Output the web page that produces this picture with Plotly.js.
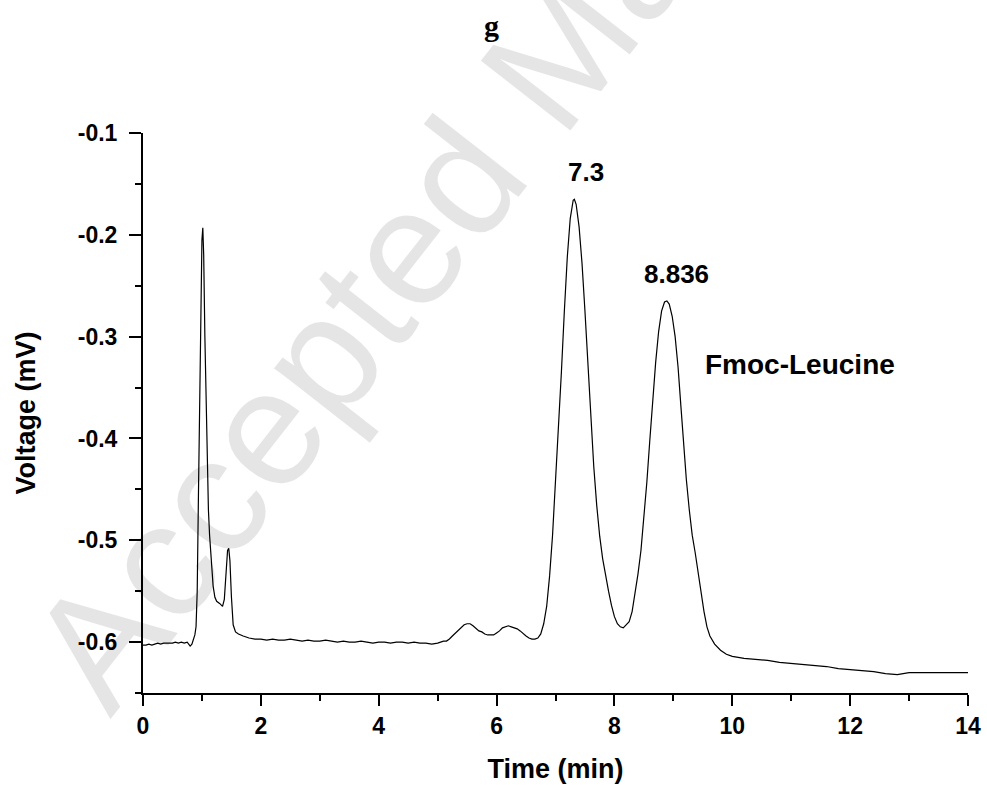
<!DOCTYPE html>
<html>
<head>
<meta charset="utf-8">
<script src="https://cdn.plot.ly/plotly-3.0.1.min.js"></script>
<style>html,body{margin:0;padding:0;background:#fff;}#chart{width:987px;height:785px;}</style>
</head>
<body>
<div id="chart"></div>
<script>
// Data
const timeMin = [
  0.00,0.05,0.10,0.15,0.20,0.25,0.30,0.35,0.40,0.45,0.50,0.55,0.60,0.65,0.70,0.75,0.80,0.83,0.86,0.88,
  0.90,0.92,0.94,0.96,0.98,1.00,1.015,1.03,1.05,1.07,1.09,1.11,1.13,1.16,1.19,1.22,1.25,1.30,1.35,1.38,
  1.41,1.435,1.455,1.475,1.50,1.53,1.57,1.62,1.70,1.80,
  1.9,2.0,2.1,2.2,2.3,2.4,2.5,2.6,2.7,2.8,2.9,3.0,3.1,3.2,3.3,3.4,3.5,3.6,3.7,3.8,3.9,4.0,4.1,4.2,4.3,4.4,4.5,4.6,4.7,4.8,4.9,5.0,5.1,
  5.15,5.2,5.25,5.3,5.35,5.4,5.45,5.5,5.55,5.6,5.65,5.7,5.75,5.8,5.85,5.9,5.95,6.0,6.05,6.1,6.15,6.2,6.25,6.3,6.35,6.4,6.45,6.5,6.55,6.6,6.65,6.7,6.75,6.8,6.85,
  6.90,6.95,7.00,7.05,7.10,7.15,7.20,7.25,7.30,7.32,7.35,7.40,7.45,7.50,7.55,7.60,7.65,7.70,7.75,7.80,7.85,7.90,7.95,8.00,8.05,8.10,8.15,8.20,
  8.25,8.30,8.35,8.40,8.45,8.50,8.55,8.60,8.65,8.70,8.75,8.80,8.85,8.89,8.93,8.98,9.03,9.08,9.13,9.17,9.22,9.27,9.32,9.37,9.42,9.47,9.52,9.57,9.62,
  9.70,9.80,9.90,10.0,10.2,10.4,10.6,10.8,11.0,11.2,11.4,11.6,11.8,12.0,12.2,12.4,12.6,12.8,12.9,13.0,13.2,13.4,13.6,13.8,14.0
];
const voltage = [
  -0.603,-0.603,-0.602,-0.603,-0.602,-0.601,-0.602,-0.601,-0.601,-0.601,-0.601,-0.600,-0.601,-0.600,-0.601,-0.600,-0.604,-0.602,-0.597,-0.593,
  -0.585,-0.550,-0.460,-0.360,-0.260,-0.205,-0.193,-0.220,-0.300,-0.370,-0.430,-0.470,-0.495,-0.525,-0.545,-0.556,-0.560,-0.562,-0.565,-0.558,
  -0.530,-0.510,-0.508,-0.520,-0.555,-0.583,-0.590,-0.592,-0.594,-0.596,
  -0.597,-0.597,-0.598,-0.597,-0.598,-0.598,-0.597,-0.598,-0.599,-0.598,-0.599,-0.599,-0.598,-0.599,-0.600,-0.599,-0.600,-0.600,-0.599,-0.600,-0.601,-0.600,-0.600,-0.601,-0.600,-0.600,-0.601,-0.600,-0.601,-0.601,-0.602,-0.601,-0.599,
  -0.599,-0.597,-0.594,-0.591,-0.588,-0.585,-0.583,-0.582,-0.582,-0.584,-0.587,-0.589,-0.590,-0.592,-0.593,-0.593,-0.593,-0.591,-0.589,-0.586,-0.585,-0.584,-0.585,-0.586,-0.587,-0.589,-0.592,-0.594,-0.596,-0.597,-0.597,-0.596,-0.592,-0.582,-0.565,
  -0.535,-0.495,-0.445,-0.395,-0.335,-0.275,-0.222,-0.184,-0.166,-0.165,-0.170,-0.192,-0.228,-0.275,-0.327,-0.380,-0.428,-0.466,-0.496,-0.518,-0.535,-0.550,-0.564,-0.575,-0.582,-0.585,-0.586,-0.583,
  -0.580,-0.570,-0.552,-0.533,-0.510,-0.480,-0.443,-0.402,-0.362,-0.325,-0.295,-0.275,-0.266,-0.265,-0.268,-0.280,-0.300,-0.330,-0.370,-0.402,-0.440,-0.470,-0.495,-0.512,-0.532,-0.550,-0.570,-0.585,-0.594,
  -0.602,-0.608,-0.612,-0.614,-0.616,-0.617,-0.618,-0.620,-0.621,-0.622,-0.623,-0.624,-0.626,-0.627,-0.628,-0.629,-0.631,-0.632,-0.631,-0.630,-0.630,-0.630,-0.630,-0.630,-0.630
];
const xTickVals = [0,2,4,6,8,10,12,14];
const xTickText = ["0","2","4","6","8","10","12","14"];
const yTickVals = [-0.6,-0.5,-0.4,-0.3,-0.2,-0.1];
const yTickText = ["-0.6","-0.5","-0.4","-0.3","-0.2","-0.1"];
const yMinorVals = [-0.65,-0.55,-0.45,-0.35,-0.25,-0.15];
const xMinorVals = [1,3,5,7,9,11,13];
const peakLabels = ["7.3","8.836","Fmoc-Leucine"];
const peakLabelX = [7.51,9.06,11.15];
const peakLabelY = [-0.138,-0.238,-0.327];

const font = "Liberation Sans, Arial, Helvetica, sans-serif";

const trace = {
  x: timeMin, y: voltage, type: "scatter", mode: "lines",
  line: {color: "#000", width: 1.2}, showlegend: false, hoverinfo: "skip"
};

const labelSizes = [26, 26, 28];
const annotations = peakLabels.map((t,i) => ({
  x: peakLabelX[i], y: peakLabelY[i], xref: "x", yref: "y", text: "<b>" + t + "</b>",
  showarrow: false, xanchor: "center", yanchor: "middle",
  font: {family: font, size: labelSizes[i], color: "#000"}
}));
annotations.push({
  x: 0.481, y: 1.1, xref: "paper", yref: "paper", text: "Accepted Manuscript",
  showarrow: false, textangle: -52, xanchor: "center", yanchor: "middle",
  font: {family: font, size: 165, color: "rgba(0,0,0,0.1)"}
});

const layout = {
  width: 987, height: 785,
  paper_bgcolor: "#fff", plot_bgcolor: "#fff",
  margin: {l: 143, r: 19, t: 133, b: 92},
  title: {
    text: "<b>g</b>", x: 0.498, xref: "container", xanchor: "center",
    y: 0.967, yref: "container", yanchor: "middle",
    font: {family: "Liberation Serif, Times New Roman, serif", size: 30, color: "#000"}
  },
  xaxis: {
    range: [0, 14], tickmode: "array", tickvals: xTickVals, ticktext: xTickText,
    ticks: "outside", ticklen: 11, tickwidth: 2, tickcolor: "#000",
    showline: true, linewidth: 2, linecolor: "#000", mirror: false,
    showgrid: false, zeroline: false,
    tickfont: {family: font, size: 23, color: "#000", weight: "bold"},
    minor: {tickmode: "array", tickvals: xMinorVals, ticks: "outside", ticklen: 6, tickwidth: 2, tickcolor: "#000", showgrid: false},
    title: {text: "<b>Time (min)</b>", standoff: 22, font: {family: font, size: 27, color: "#000"}},
    automargin: false
  },
  yaxis: {
    range: [-0.65, -0.1], tickmode: "array", tickvals: yTickVals, ticktext: yTickText,
    ticks: "outside", ticklen: 12, tickwidth: 2, tickcolor: "#000",
    showline: true, linewidth: 2, linecolor: "#000",
    showgrid: false, zeroline: false, ticklabelstandoff: 7,
    tickfont: {family: font, size: 23, color: "#000", weight: "bold"},
    minor: {tickmode: "array", tickvals: yMinorVals, ticks: "outside", ticklen: 6, tickwidth: 2, tickcolor: "#000", showgrid: false},
    title: {text: "<b>Voltage (mV)</b>", standoff: 34, font: {family: font, size: 27, color: "#000"}},
    automargin: false
  },
  annotations: annotations
};

Plotly.newPlot("chart", [trace], layout, {staticPlot: true, displayModeBar: false});
</script>
</body>
</html>
